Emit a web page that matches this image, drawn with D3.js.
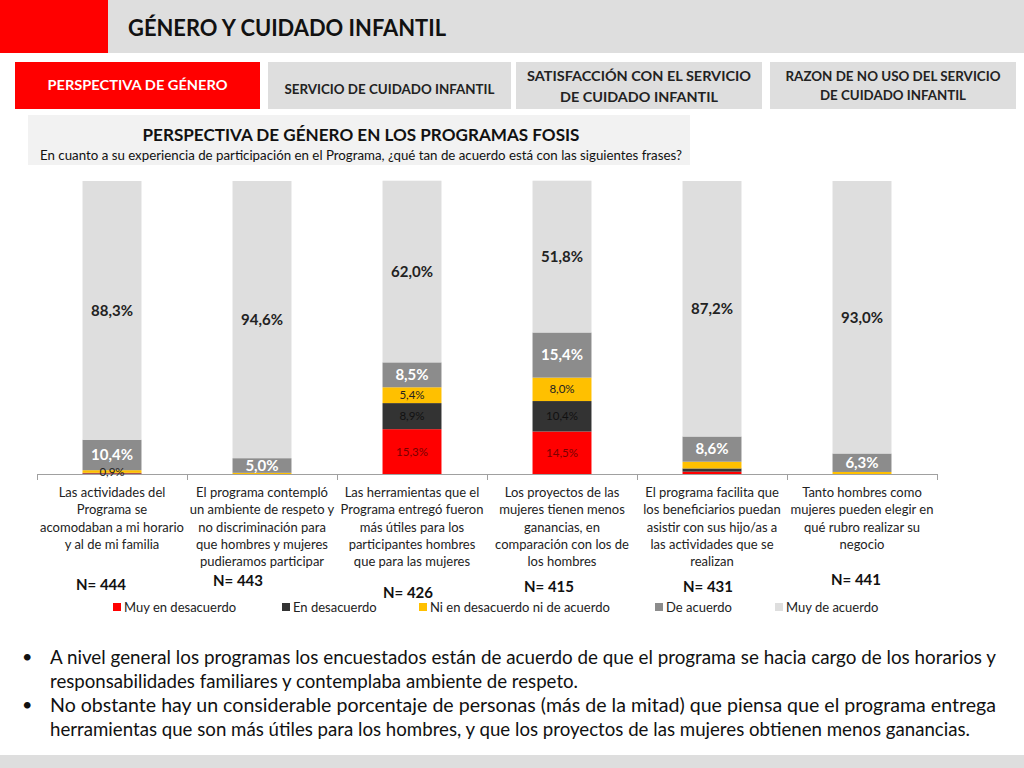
<!DOCTYPE html>
<html>
<head>
<meta charset="utf-8">
<script src="https://cdn.jsdelivr.net/npm/d3@7/dist/d3.min.js"></script>
<style>
  body { margin: 0; background: #fff; }
  svg { display: block; }
</style>
</head>
<body>
<svg id="chart" width="1024" height="768"></svg>
<script>
// data
const categories = [
    ["Las actividades del", "Programa se", "acomodaban a mi horario", "y al de mi familia"],
    ["El programa contempló", "un ambiente de respeto y", "no discriminación para", "que hombres y mujeres", "pudieramos participar"],
    ["Las herramientas que el", "Programa entregó fueron", "más útiles para los", "participantes hombres", "que para las mujeres"],
    ["Los proyectos de las", "mujeres tienen menos", "ganancias, en", "comparación con los de", "los hombres"],
    ["El programa facilita que", "los beneficiarios puedan", "asistir con sus hijo/as a", "las actividades que se", "realizan"],
    ["Tanto hombres como", "mujeres pueden elegir en", "qué rubro realizar su", "negocio"]
];
const seriesNames = ["Muy en desacuerdo", "En desacuerdo", "Ni en desacuerdo ni de acuerdo", "De acuerdo", "Muy de acuerdo"];
const muyDesacuerdo = [0.2, 0, 15.3, 14.5, 0.8, 0];
const enDesacuerdo = [0.2, 0, 8.9, 10.4, 1.1, 0];
const niNi = [0.9, 0.4, 5.4, 8.0, 2.3, 0.7];
const deAcuerdo = [10.4, 5.0, 8.5, 15.4, 8.6, 6.3];
const muyAcuerdo = [88.3, 94.6, 62.0, 51.8, 87.2, 93.0];
const nValues = [444, 443, 426, 415, 431, 441];

const bullets = [
    ["A nivel general los programas los encuestados están de acuerdo de que el programa se hacia cargo de los horarios  y",
     "responsabilidades familiares y contemplaba ambiente de respeto."],
    ["No obstante hay un considerable porcentaje de personas (más de la mitad) que piensa que el programa entrega",
     "herramientas que son más útiles para los hombres, y que los proyectos de las mujeres obtienen menos ganancias."]
];

const colours = ["#ff0000", "#333333", "#ffc000", "#8c8c8c", "#dedede"];
const fontFamily = "Lato, 'Open Sans', 'Liberation Sans', sans-serif";

const svg = d3.select("#chart");

// header
svg.append("rect").attr("x", 0).attr("y", 0).attr("width", 1024).attr("height", 53).attr("fill", "#dedede");
svg.append("rect").attr("x", 0).attr("y", 0).attr("width", 108).attr("height", 53).attr("fill", "#ff0000");
svg.append("text")
    .attr("x", 128).attr("y", 36)
    .attr("textLength", 318).attr("lengthAdjust", "spacingAndGlyphs")
    .style("font-family", fontFamily).style("font-weight", "bold").style("font-size", "23px")
    .style("fill", "#111")
    .text("GÉNERO Y CUIDADO INFANTIL");

// tabs
const tabs = [
    { x: 15, w: 245, fill: "#ff0000", color: "#fff", lines: [["PERSPECTIVA DE GÉNERO", 90, 180]] },
    { x: 268, w: 243, fill: "#dedede", color: "#222", lines: [["SERVICIO DE CUIDADO INFANTIL", 94, 210]] },
    { x: 516, w: 246, fill: "#dedede", color: "#222", lines: [["SATISFACCIÓN CON EL SERVICIO", 81, 224], ["DE CUIDADO INFANTIL", 102, 158]] },
    { x: 770, w: 246, fill: "#dedede", color: "#222", lines: [["RAZON DE NO USO DEL SERVICIO", 81, 215], ["DE CUIDADO INFANTIL", 100, 146]] }
];
tabs.forEach(t => {
    svg.append("rect").attr("x", t.x).attr("y", 62).attr("width", t.w).attr("height", 47).attr("fill", t.fill);
    t.lines.forEach(l => {
        svg.append("text")
            .attr("x", t.x + t.w / 2).attr("y", l[1])
            .attr("text-anchor", "middle")
            .attr("textLength", l[2]).attr("lengthAdjust", "spacingAndGlyphs")
            .style("font-family", fontFamily).style("font-weight", "bold").style("font-size", "13.5px")
            .style("fill", t.color)
            .text(l[0]);
    });
});

// subtitle box
svg.append("rect").attr("x", 28).attr("y", 115).attr("width", 662).attr("height", 50).attr("fill", "#f2f2f2");
svg.append("text")
    .attr("x", 361).attr("y", 141).attr("text-anchor", "middle")
    .attr("textLength", 437).attr("lengthAdjust", "spacingAndGlyphs")
    .style("font-family", fontFamily).style("font-weight", "bold").style("font-size", "17px").style("fill", "#111")
    .text("PERSPECTIVA DE GÉNERO EN LOS PROGRAMAS FOSIS");
svg.append("text")
    .attr("x", 361).attr("y", 160).attr("text-anchor", "middle")
    .attr("textLength", 642).attr("lengthAdjust", "spacingAndGlyphs")
    .style("font-family", fontFamily).style("font-size", "12.5px").style("fill", "#111")
    .text("En cuanto a su experiencia de participación en el Programa, ¿qué tan de acuerdo está con las siguientes frases?");

// chart
const chartLeft = 37, chartRight = 937, baseY = 474, topY = 181;
const idx = d3.range(categories.length);

const xScale = d3.scaleBand()
    .domain(idx)
    .range([chartLeft, chartRight])
    .paddingInner(0.607)
    .paddingOuter(0.3035);

const xEdges = d3.scaleLinear().domain([0, categories.length]).range([chartLeft, chartRight]);

const yScale = d3.scaleLinear().domain([0, 100]).range([baseY, topY]);

const keys = ["muyDes", "enDes", "ni", "de", "muy"];
const table = idx.map(i => ({
    i: i,
    muyDes: muyDesacuerdo[i],
    enDes: enDesacuerdo[i],
    ni: niNi[i],
    de: deAcuerdo[i],
    muy: muyAcuerdo[i]
}));
const stacked = d3.stack().keys(keys)(table);

const chart = svg.append("g");

stacked.forEach((layer, k) => {
    chart.append("g")
        .selectAll("rect")
        .data(layer)
        .join("rect")
        .attr("x", d => xScale(d.data.i))
        .attr("width", xScale.bandwidth())
        .attr("y", d => yScale(d[1]))
        .attr("height", d => yScale(d[0]) - yScale(d[1]))
        .attr("fill", colours[k]);
});

const axis = d3.axisBottom(xEdges)
    .tickValues(d3.range(categories.length + 1))
    .tickSize(6)
    .tickSizeOuter(0)
    .tickFormat("");
const axisG = chart.append("g")
    .attr("transform", "translate(0," + baseY + ")")
    .call(axis);
axisG.selectAll("path, line").attr("stroke", "#a0a0a0");

// segment labels
const labelStyle = [
    { size: "11.5px", weight: "normal", color: "#7a0000" },
    { size: "11.5px", weight: "normal", color: "#111" },
    { size: "11.5px", weight: "normal", color: "#222" },
    { size: "15px", weight: "bold", color: "#fff" },
    { size: "15px", weight: "bold", color: "#222" }
];
const fmt = v => d3.format(".1f")(v).replace(".", ",") + "%";

stacked.forEach((layer, k) => {
    chart.append("g")
        .selectAll("text")
        .data(layer.filter(d => (d[1] - d[0]) >= 5 || (keys[k] === "ni" && d.data.i === 0)))
        .join("text")
        .attr("x", d => xScale(d.data.i) + xScale.bandwidth() / 2)
        .attr("y", d => yScale((d[0] + d[1]) / 2))
        .attr("dy", "0.36em")
        .attr("text-anchor", "middle")
        .style("font-family", fontFamily)
        .style("font-size", labelStyle[k].size)
        .style("font-weight", labelStyle[k].weight)
        .style("fill", labelStyle[k].color)
        .text(d => fmt(d[1] - d[0]));
});

// category labels
idx.forEach(i => {
    const t = chart.append("text")
        .attr("text-anchor", "middle")
        .style("font-family", fontFamily)
        .style("font-size", "13px")
        .style("fill", "#222");
    categories[i].forEach((line, j) => {
        t.append("tspan")
            .attr("x", xScale(i) + xScale.bandwidth() / 2)
            .attr("y", 497 + j * 17.3)
            .text(line);
    });
});

// N= labels (offsets as they sit on the slide)
const nOffset = [[-11, 585], [-24, 581], [-4, 593], [-13, 587], [-4, 587], [-6, 580]];
idx.forEach(i => {
    chart.append("text")
        .attr("x", xScale(i) + xScale.bandwidth() / 2 + nOffset[i][0])
        .attr("y", nOffset[i][1])
        .attr("dy", "0.36em")
        .attr("text-anchor", "middle")
        .style("font-family", fontFamily)
        .style("font-weight", "bold")
        .style("font-size", "15px")
        .style("fill", "#111")
        .text("N= " + nValues[i]);
});

// legend
const legendX = [113, 282, 419, 655, 775];
const legend = svg.append("g");
seriesNames.forEach((name, k) => {
    legend.append("rect")
        .attr("x", legendX[k]).attr("y", 603)
        .attr("width", 8).attr("height", 8)
        .attr("fill", colours[k]);
    legend.append("text")
        .attr("x", legendX[k] + 11).attr("y", 607)
        .attr("dy", "0.36em")
        .style("font-family", fontFamily)
        .style("font-size", "13px")
        .style("fill", "#222")
        .text(name);
});

// bullet text
const bulletLines = [
    [bullets[0][0], 657, 946],
    [bullets[0][1], 681, 528],
    [bullets[1][0], 705, 946],
    [bullets[1][1], 729, 920]
];
[657, 705].forEach(y => {
    svg.append("text")
        .attr("x", 22).attr("y", y).attr("dy", "0.36em")
        .style("font-family", fontFamily).style("font-size", "18px").style("fill", "#111")
        .text("•");
});
bulletLines.forEach(l => {
    svg.append("text")
        .attr("x", 50).attr("y", l[1]).attr("dy", "0.36em")
        .attr("textLength", l[2]).attr("lengthAdjust", "spacingAndGlyphs")
        .style("font-family", fontFamily).style("font-size", "18.5px").style("fill", "#111")
        .text(l[0]);
});

// footer band
svg.append("rect").attr("x", 0).attr("y", 755).attr("width", 1024).attr("height", 13).attr("fill", "#dedede");
</script>
</body>
</html>
